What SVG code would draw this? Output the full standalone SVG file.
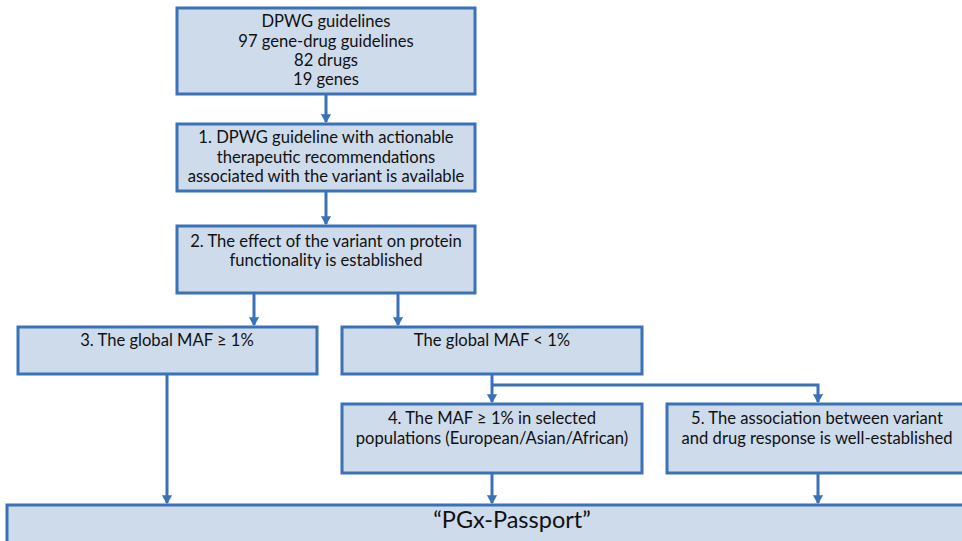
<svg xmlns="http://www.w3.org/2000/svg" width="962" height="541" viewBox="0 0 962 541">
<style>
.box{fill:#cddbeb;stroke:#3b71b6;stroke-width:3}
.t{font-family:Lato,"Open Sans","Noto Sans",sans-serif;font-size:16.6px;fill:#111;text-anchor:middle}
.big{font-size:23.5px}
.c{fill:none;stroke:#3b71b6;stroke-width:3}
</style>
<defs>
<marker id="ah" markerWidth="4" markerHeight="4" refX="2.6" refY="2" orient="auto" markerUnits="strokeWidth">
<path d="M0,0.3 L3,2 L0,3.7 Z" fill="#3b71b6"/>
</marker>
</defs>
<rect width="962" height="541" fill="#fff"/>
<g id="connectors">
<line class="c" x1="326" y1="94" x2="326" y2="122" marker-end="url(#ah)"/>
<line class="c" x1="326" y1="191" x2="326" y2="224" marker-end="url(#ah)"/>
<line class="c" x1="254" y1="294" x2="254" y2="325" marker-end="url(#ah)"/>
<line class="c" x1="398" y1="294" x2="398" y2="325" marker-end="url(#ah)"/>
<line class="c" x1="167" y1="374" x2="167" y2="503" marker-end="url(#ah)"/>
<polyline class="c" points="492,374 492,385 492,402" marker-end="url(#ah)"/>
<polyline class="c" points="492,385 818,385 818,402" marker-end="url(#ah)"/>
<line class="c" x1="492" y1="473" x2="492" y2="503" marker-end="url(#ah)"/>
<line class="c" x1="818" y1="473" x2="818" y2="503" marker-end="url(#ah)"/>
</g>
<g id="n0">
<rect class="box" x="177" y="8" width="298" height="86"/>
<text class="t" x="326" y="27">DPWG guidelines</text>
<text class="t" x="326" y="47">97 gene-drug guidelines</text>
<text class="t" x="326" y="66">82 drugs</text>
<text class="t" x="326" y="85">19 genes</text>
</g>
<g id="n1">
<rect class="box" x="177" y="124" width="298" height="67"/>
<text class="t" x="326" y="143">1. DPWG guideline with actionable</text>
<text class="t" x="326" y="163">therapeutic recommendations</text>
<text class="t" x="326" y="182">associated with the variant is available</text>
</g>
<g id="n2">
<rect class="box" x="177" y="226" width="298" height="67"/>
<text class="t" x="326" y="247">2. The effect of the variant on protein</text>
<text class="t" x="326" y="266">functionality is established</text>
</g>
<g id="n3">
<rect class="box" x="18" y="327" width="299" height="47"/>
<text class="t" x="167" y="346">3. The global MAF ≥ 1%</text>
</g>
<g id="n3b">
<rect class="box" x="342" y="327" width="300" height="47"/>
<text class="t" x="492" y="346">The global MAF &lt; 1%</text>
</g>
<g id="n4">
<rect class="box" x="342" y="404" width="300" height="69"/>
<text class="t" x="492" y="424">4. The MAF ≥ 1% in selected</text>
<text class="t" x="492" y="444">populations (European/Asian/African)</text>
</g>
<g id="n5">
<rect class="box" x="667" y="404" width="305" height="69"/>
<text class="t" x="817" y="424">5. The association between variant</text>
<text class="t" x="817" y="444">and drug response is well-established</text>
</g>
<g id="n6">
<rect class="box" x="7" y="505" width="970" height="50"/>
<text class="t big" x="512" y="528">“PGx-Passport”</text>
</g>
</svg>
